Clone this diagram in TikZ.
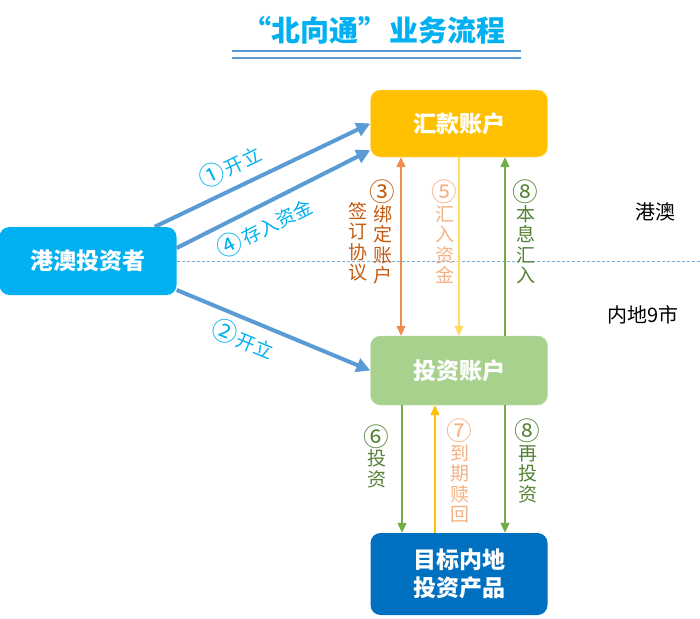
\documentclass[tikz,border=0pt]{standalone}
\usepackage{fontspec}
\newfontfamily\cjk{Noto Sans CJK SC}
\usetikzlibrary{arrows.meta,positioning,calc}
\definecolor{invblue}{HTML}{00B0F0}
\definecolor{remityellow}{HTML}{FFC000}
\definecolor{investgreen}{HTML}{A9D18E}
\definecolor{targetblue}{HTML}{0070C0}
\definecolor{arrowblue}{HTML}{5B9BD5}
\definecolor{bindorange}{HTML}{F08C50}
\definecolor{bindbrown}{HTML}{C55A11}
\definecolor{fundyellow}{HTML}{FFD966}
\definecolor{fundsalmon}{HTML}{F4B183}
\definecolor{flowgreen}{HTML}{70AD47}
\definecolor{textgreen}{HTML}{548235}
\newcommand\cnum[1]{\raisebox{-1pt}{\scalebox{1.35}{#1}}\kern1.5pt}

\begin{document}
\begin{tikzpicture}[x=1pt, y=-1pt,
    box/.style={rounded corners=10pt, minimum width=177pt, inner sep=0pt, align=center,
        text=white, font=\cjk\bfseries\fontsize{23}{28}\selectfont},
    vlabel/.style={align=center, inner sep=0pt, font=\cjk\fontsize{19}{20.5}\selectfont},
    slabel/.style={inner sep=0pt, text=invblue, font=\cjk\fontsize{19}{20}\selectfont},
    bigarrow/.style={draw=arrowblue, line width=4pt, -{Triangle[length=14pt,width=14pt]}},
    thinarrow/.style={line width=1.3pt},
    tip/.style={-{Triangle[length=10pt,width=9pt]}},
    ]
    \useasboundingbox (0,0) rectangle (700,618);

    % title
    \node[font=\cjk\bfseries\fontsize{29}{32}\selectfont, text=invblue] at (374,30) (title) {“北向通”\hspace{3pt}业务流程};
    \draw[arrowblue, line width=1.8pt] (232,51) -- (521,51);
    \draw[arrowblue, line width=1.8pt] (232,58) -- (521,58);

    % boxes
    \node[box, fill=invblue, minimum height=68pt] at (88,261) (inv) {港澳投资者};
    \node[box, fill=remityellow, draw=fundyellow, minimum height=67pt] at (459,123.5) (remit) {汇款账户};
    \node[box, fill=investgreen, draw=investgreen!80!white, minimum height=69pt] at (459,370.5) (invest) {投资账户};
    \node[box, fill=targetblue, minimum height=82pt] at (459,574) (target) {目标内地\\投资产品};

    % border line
    \coordinate (rightend) at (700,261);
    \draw[arrowblue!80, line width=0.8pt, dash pattern=on 3pt off 2pt] (inv.east) -- (rightend);
    \node[font=\cjk\fontsize{20}{22}\selectfont] at (655,212) (hkmo) {港澳};
    \node[font=\cjk\fontsize{20}{22}\selectfont] at (643,315) (mainland) {内地9市};

    % investor to accounts
    \draw[bigarrow] ([xshift=-22pt]inv.north east) -- (remit.west);
    \draw[bigarrow] ([yshift=13pt]inv.east) -- ([yshift=7pt]remit.south west);
    \draw[bigarrow] ([yshift=-29pt]inv.east) -- (invest.west);
    \node[slabel, rotate=26] at (230,166) (open1) {\cnum{①}开立};
    \node[slabel, rotate=27] at (264,227) (deposit) {\cnum{④}存入资金};
    \node[slabel, rotate=-22] at (243,339) (open2) {\cnum{②}开立};

    % remittance account <-> investment account
    \draw[thinarrow, bindorange, {Triangle[length=10pt,width=9pt]}-{Triangle[length=10pt,width=9pt]}]
        ([xshift=-58pt]remit.south) -- ([xshift=-58pt]invest.north);
    \draw[thinarrow, tip, fundyellow] (remit.south) -- (invest.north);
    \draw[thinarrow, tip, flowgreen] ([xshift=46pt]invest.north) -- ([xshift=46pt]remit.south);
    \node[vlabel, text=bindbrown] at (383,232) (bind) {\cnum{③}\\绑\\定\\账\\户};
    \node[vlabel, text=bindbrown] at (358,242) (sign) {签\\订\\协\\议};
    \node[vlabel, text=fundsalmon] at (445,232) (remitin) {\cnum{⑤}\\汇\\入\\资\\金};
    \node[vlabel, text=textgreen] at (526,232) (interest) {\cnum{⑧}\\本\\息\\汇\\入};

    % investment account <-> target products
    \draw[thinarrow, tip, flowgreen] ([xshift=-57pt]invest.south) -- ([xshift=-57pt]target.north);
    \draw[thinarrow, tip, remityellow] ([xshift=-24pt]target.north) -- ([xshift=-24pt]invest.south);
    \draw[thinarrow, tip, flowgreen] ([xshift=46pt]invest.south) -- ([xshift=46pt]target.north);
    \node[vlabel, text=textgreen] at (377,456) (buy) {\cnum{⑥}\\投\\资};
    \node[vlabel, text=fundsalmon] at (460,471) (redeem) {\cnum{⑦}\\到\\期\\赎\\回};
    \node[vlabel, text=textgreen] at (528,461) (reinvest) {\cnum{⑧}\\再\\投\\资};
\end{tikzpicture}
\end{document}
